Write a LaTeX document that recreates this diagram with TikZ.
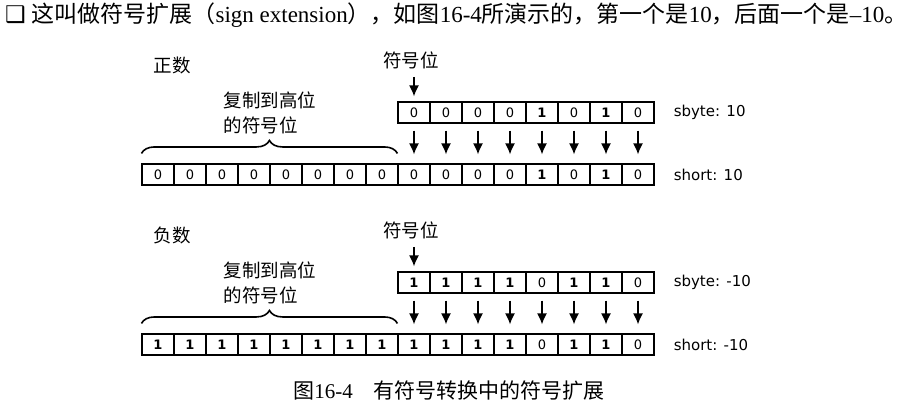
\documentclass[tikz,border=0pt]{standalone}
\usepackage{fontspec}
\setmainfont{Liberation Serif}
\newfontfamily\cjk{Noto Sans CJK SC}
\newfontfamily\bitfont{DejaVu Sans}
\usetikzlibrary{arrows.meta, positioning, decorations.pathreplacing}

\newcommand{\bitval}[1]{\ifnum#1=1 \textbf{1}\else 0\fi}

\begin{document}
\begin{tikzpicture}[x=1pt, y=-1pt,
    cell/.style={draw, line width=1.1pt, minimum width=32pt, minimum height=21pt,
        inner sep=0pt, font=\bitfont\fontsize{13}{13}\selectfont},
    arr/.style={-{Latex[length=11pt,width=10pt]}, line width=1.6pt},
    lab/.style={font=\cjk\fontsize{18.5}{25}\selectfont, inner sep=0pt},
    typ/.style={font=\bitfont\fontsize{15}{15}\selectfont, inner sep=0pt}]
    \useasboundingbox (0,0) rectangle (909,410);

    % Dòng chữ đầu
    \node[anchor=west, inner sep=0pt, font=\fontsize{23}{24}\selectfont] (head) at (5,15)
        {{\bitfont ❑} {\cjk 这叫做符号扩展（}sign extension{\cjk ），如图}16-4{\cjk 所演示的，第一个是}10{\cjk ，后面一个是}–10{\cjk 。}};

    % Hai trường hợp: số dương và số âm
    \foreach \yo/\sg/\bits/\val/\kind [count=\p] in
        {0/0/{0,0,0,0,1,0,1,0}/10/正数, 170/1/{1,1,1,1,0,1,1,0}/-10/负数} {
        % Ô sbyte
        \foreach \b [count=\i] in \bits
            \node[cell] (b\p-\i) at (414+32*\i-32, 112.5+\yo) {\bitval{\b}};
        % Ô short
        \foreach \i in {1,...,8}
            \node[cell] (s\p-\i) at (158+32*\i-32, 174.5+\yo) {\bitval{\sg}};
        \foreach \b [count=\i from 9] in \bits
            \node[cell] (s\p-\i) at (158+32*\i-32, 174.5+\yo) {\bitval{\b}};

        % Nhãn
        \node[lab] (kd\p) at (172,65+\yo) {\kind};
        \node[lab] (sg\p) at (411,60+\yo) {符号位};
        \node[lab, align=left] (cp\p) at (270,113+\yo) {复制到高位\\的符号位};
        \node[typ, right=19pt of b\p-8] (tb\p) {sbyte: \val};
        \node[typ, right=19pt of s\p-16] (ts\p) {short: \val};

        % Mũi tên
        \draw[arr, shorten <=8pt, shorten >=5pt] (sg\p.south -| b\p-1.north) -- (b\p-1.north);
        \foreach \i in {1,...,8} {
            \pgfmathtruncatemacro\j{\i+8}
            \draw[arr, shorten <=7pt, shorten >=9pt] (b\p-\i.south) -- (s\p-\j.north);
        }

        % Dấu ngoặc
        \draw[decorate, decoration={brace, amplitude=13pt}, line width=1.6pt]
            ([yshift=10pt]s\p-1.north west) -- ([yshift=10pt]s\p-9.north west);
    }

    % Chú thích hình
    \node[font=\fontsize{21}{24}\selectfont] (cap) at (449,391)
        {{\cjk 图}16-4\quad{\cjk 有符号转换中的符号扩展}};
\end{tikzpicture}
\end{document}
